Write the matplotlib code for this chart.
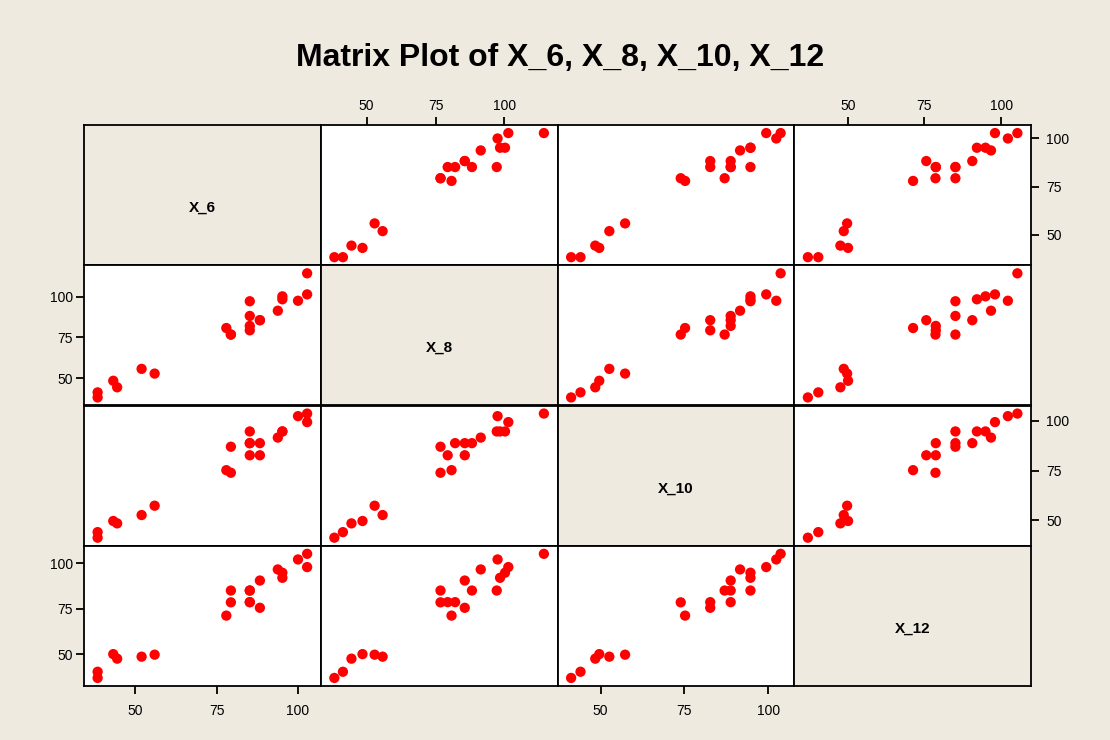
import numpy as np
import matplotlib
matplotlib.use("Agg")
import matplotlib.pyplot as plt

# variables shown in the matrix (one value per observation)
names = ["X_6", "X_8", "X_10", "X_12"]
x6 = [38.5, 38.5, 43.3, 44.5, 52.0, 56.0, 78.0, 79.4, 79.4, 88.3, 88.3,
      102.8, 102.8, 100.0, 93.8, 95.2, 95.2, 85.2, 85.2, 85.2, 85.2]
x8 = [38.3, 41.4, 48.5, 44.5, 55.8, 52.9, 80.8, 76.8, 76.8, 85.6, 85.6,
      114.3, 101.4, 97.5, 91.4, 100.2, 98.4, 97.2, 88.2, 82.1, 79.4]
x10 = [41.2, 44.0, 49.6, 48.4, 52.6, 57.3, 75.2, 73.9, 87.0, 88.8, 82.7,
       103.7, 99.4, 102.4, 91.6, 94.7, 94.7, 94.7, 88.8, 88.8, 82.7]
x12 = [37.0, 40.4, 50.1, 47.6, 48.7, 49.8, 71.3, 78.6, 85.1, 90.6, 75.6,
       105.3, 98.0, 102.2, 96.7, 94.9, 92.1, 85.1, 85.1, 78.7, 78.7]
ticks = [50, 75, 100]

data = [np.array(v) for v in (x6, x8, x10, x12)]
bg = "#EEEAE0"

fig = plt.figure(figsize=(11.1, 7.4), dpi=100, facecolor=bg)
gs = fig.add_gridspec(4, 4, left=84/1110, right=1031/1110,
                      top=1 - 125/740, bottom=1 - 686/740,
                      wspace=0, hspace=0)

lims = []
for d in data:
    pad = 0.065 * (d.max() - d.min())
    lims.append((d.min() - pad, d.max() + pad))

n = len(names)
for i in range(n):
    for j in range(n):
        ax = fig.add_subplot(gs[i, j])
        ax.set_xlim(lims[j])
        ax.set_ylim(lims[i])
        ax.set_xticks(ticks)
        ax.set_yticks(ticks)
        for s in ax.spines.values():
            s.set_linewidth(1.3)
            s.set_color("black")
        ax.tick_params(which="both", bottom=False, top=False, left=False, right=False,
                       labelbottom=False, labeltop=False, labelleft=False, labelright=False,
                       length=6, width=1.3, labelsize=10)
        if i == j:
            ax.set_facecolor(bg)
            ax.text(0.5, 0.41, names[i], transform=ax.transAxes, ha="center", va="center",
                    fontsize=11, fontweight="bold", family="Liberation Sans")
        else:
            ax.set_facecolor("white")
            ax.scatter(data[j], data[i], s=55, color="#FF0000", edgecolors="none", zorder=3)
        # Minitab style: alternate the axis side
        if i == n - 1 and j % 2 == 0:
            ax.tick_params(axis="x", bottom=True, labelbottom=True, pad=7)
        if i == 0 and j % 2 == 1:
            ax.tick_params(axis="x", top=True, labeltop=True, pad=3)
        if j == 0 and i % 2 == 1:
            ax.tick_params(axis="y", left=True, labelleft=True, pad=2)
        if j == n - 1 and i % 2 == 0:
            ax.tick_params(axis="y", right=True, labelright=True, pad=5)
        for lab in ax.get_xticklabels() + ax.get_yticklabels():
            lab.set_family("Liberation Sans")

fig.text(0.505, 1 - 58/740, "Matrix Plot of X_6, X_8, X_10, X_12", ha="center", va="center",
         fontsize=23, fontweight="bold", family="Liberation Sans")

fig.savefig("out.png", dpi=100, facecolor=bg)
